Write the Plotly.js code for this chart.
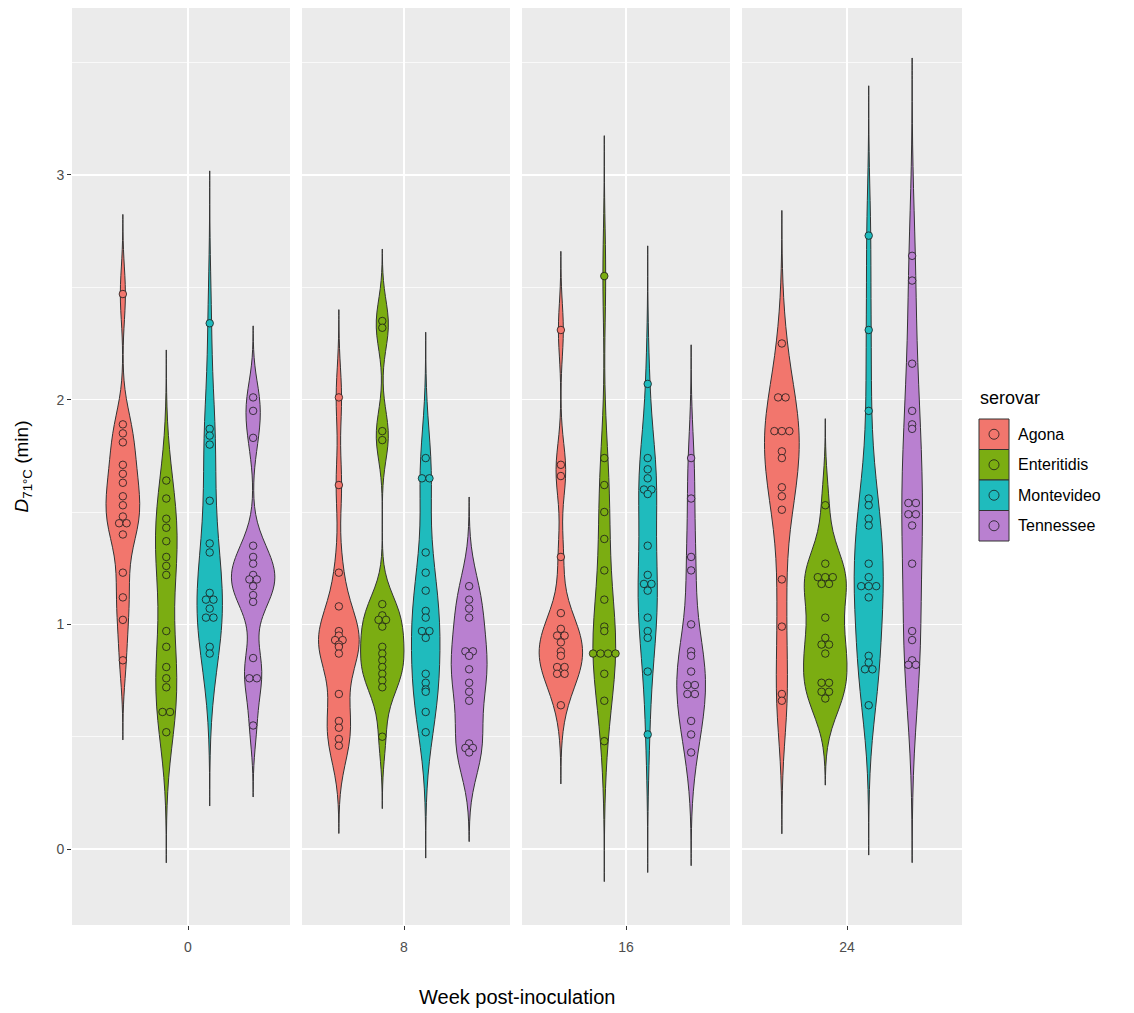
<!DOCTYPE html>
<html>
<head>
<meta charset="utf-8">
<script src="https://cdn.plot.ly/plotly-3.0.1.min.js"></script>
<style>html,body{margin:0;padding:0;background:#ffffff;}</style>
</head>
<body>
<div id="chart" style="width:1134px;height:1013px;"></div>
<script>
// ---------- data ----------
const weeks = ['0', '8', '16', '24'];
const serovars = ['Agona', 'Enteritidis', 'Montevideo', 'Tennessee'];
const fillColors = ['#F2766D', '#7BAD12', '#1FBBBD', '#B980D0'];

const agonaW0 = [2.47, 1.89, 1.85, 1.81, 1.71, 1.67, 1.63, 1.57, 1.53, 1.48, 1.45, 1.45, 1.40, 1.23, 1.12, 1.02, 0.84];
const enteritidisW0 = [1.64, 1.56, 1.47, 1.43, 1.37, 1.30, 1.26, 1.22, 0.97, 0.90, 0.81, 0.76, 0.72, 0.61, 0.61, 0.52];
const montevideoW0 = [2.34, 1.87, 1.84, 1.80, 1.55, 1.36, 1.32, 1.14, 1.11, 1.11, 1.07, 1.03, 1.03, 0.90, 0.87];
const tennesseeW0 = [2.01, 1.95, 1.83, 1.35, 1.30, 1.27, 1.22, 1.20, 1.20, 1.17, 1.13, 1.10, 0.85, 0.76, 0.76, 0.55];

const agonaW8 = [2.01, 1.62, 1.23, 1.08, 0.97, 0.95, 0.93, 0.93, 0.91, 0.90, 0.87, 0.69, 0.57, 0.54, 0.49, 0.46];
const enteritidisW8 = [2.35, 2.32, 1.86, 1.82, 1.09, 1.04, 1.02, 1.02, 0.99, 0.90, 0.87, 0.84, 0.81, 0.78, 0.75, 0.72, 0.50];
const montevideoW8 = [1.74, 1.65, 1.65, 1.32, 1.23, 1.15, 1.06, 1.03, 0.97, 0.97, 0.94, 0.78, 0.74, 0.71, 0.70, 0.61, 0.52];
const tennesseeW8 = [1.17, 1.11, 1.07, 1.03, 0.88, 0.88, 0.86, 0.80, 0.74, 0.70, 0.66, 0.47, 0.45, 0.45, 0.43];

const agonaW16 = [2.31, 1.71, 1.66, 1.30, 1.05, 0.98, 0.95, 0.95, 0.92, 0.88, 0.86, 0.81, 0.81, 0.78, 0.78, 0.64];
const enteritidisW16 = [2.55, 1.74, 1.62, 1.50, 1.38, 1.24, 1.11, 0.99, 0.97, 0.87, 0.87, 0.87, 0.87, 0.78, 0.66, 0.48];
const montevideoW16 = [2.07, 1.74, 1.69, 1.65, 1.60, 1.60, 1.58, 1.35, 1.22, 1.18, 1.18, 1.15, 1.03, 0.97, 0.94, 0.79, 0.51];
const tennesseeW16 = [1.74, 1.56, 1.30, 1.24, 1.00, 0.88, 0.86, 0.79, 0.73, 0.73, 0.69, 0.69, 0.57, 0.51, 0.43];

const agonaW24 = [2.25, 2.01, 2.01, 1.86, 1.86, 1.86, 1.77, 1.74, 1.61, 1.57, 1.51, 1.20, 0.99, 0.69, 0.66];
const enteritidisW24 = [1.53, 1.27, 1.21, 1.21, 1.21, 1.18, 1.18, 1.03, 0.94, 0.91, 0.91, 0.87, 0.74, 0.74, 0.70, 0.70, 0.67];
const montevideoW24 = [2.73, 2.31, 1.95, 1.56, 1.53, 1.47, 1.44, 1.27, 1.21, 1.17, 1.17, 1.17, 1.12, 0.86, 0.83, 0.80, 0.80, 0.64];
const tennesseeW24 = [2.64, 2.53, 2.16, 1.95, 1.89, 1.87, 1.54, 1.54, 1.49, 1.49, 1.44, 1.27, 0.97, 0.93, 0.84, 0.82, 0.82];

const yTickVals = [0, 1, 2, 3];

// table built from the arrays: panels (weeks) x serovars
const panels = [
  [agonaW0, enteritidisW0, montevideoW0, tennesseeW0],
  [agonaW8, enteritidisW8, montevideoW8, tennesseeW8],
  [agonaW16, enteritidisW16, montevideoW16, tennesseeW16],
  [agonaW24, enteritidisW24, montevideoW24, tennesseeW24]
];

// ---------- layout geometry ----------
const FIG_W = 1134, FIG_H = 1013;
const M = {l: 72, r: 172, t: 8, b: 88};
const plotW = FIG_W - M.l - M.r;
const plotH = FIG_H - M.t - M.b;
const panelPx = [[72, 290], [302, 510], [522, 730], [742, 962]];
const centerPx = [188, 404, 626, 847];
const pxPerUnit = 193;
const dodge = [-0.3375, -0.1125, 0.1125, 0.3375];
const violinWidth = 0.225;
const dotSize = 7.5;
const yRange = [-0.338, 3.743];
const FONT = 'Liberation Sans, Arial, Helvetica, sans-serif';

const px2x = px => (px - M.l) / plotW;
const px2y = py => (FIG_H - M.b - py) / plotH;

// ggplot-like bandwidth (bw.nrd0)
function q7(s, p) {
  const h = (s.length - 1) * p, lo = Math.floor(h), hi = Math.min(lo + 1, s.length - 1);
  return s[lo] + (h - lo) * (s[hi] - s[lo]);
}
function nrd0(v) {
  const n = v.length;
  const m = v.reduce((a, b) => a + b, 0) / n;
  const sd = Math.sqrt(v.reduce((a, b) => a + (b - m) * (b - m), 0) / (n - 1));
  const s = [...v].sort((a, b) => a - b);
  let lo = Math.min(sd, (q7(s, 0.75) - q7(s, 0.25)) / 1.34);
  if (!(lo > 0)) lo = sd || 1;
  return 0.9 * lo * Math.pow(n, -0.2);
}
// peak of the gaussian density (for ggplot's scale = "area")
function kdeMax(v, bw, lo, hi) {
  const n = v.length, steps = 600;
  let best = 0;
  for (let s = 0; s <= steps; s++) {
    const x = lo + (hi - lo) * s / steps;
    let sum = 0;
    for (let i = 0; i < n; i++) { const z = (x - v[i]) / bw; sum += Math.exp(-0.5 * z * z); }
    const d = sum / (n * bw * Math.sqrt(2 * Math.PI));
    if (d > best) best = d;
  }
  return best;
}

const traces = [];
panels.forEach((groups, i) => {
  const xa = i === 0 ? 'x' : 'x' + (i + 1);
  const stats = groups.map(vals => {
    const bw = nrd0(vals);
    const lo = Math.min(...vals) - 3 * bw, hi = Math.max(...vals) + 3 * bw;
    return {bw, lo, hi, peak: kdeMax(vals, bw, lo, hi)};
  });
  const panelPeak = Math.max(...stats.map(s => s.peak));
  groups.forEach((vals, j) => {
    const st = stats[j];
    traces.push({
      type: 'violin', x0: dodge[j], y: vals, xaxis: xa, yaxis: 'y',
      name: serovars[j], width: violinWidth * st.peak / panelPeak, scalemode: 'width',
      scalegroup: 'v' + i + '_' + j,
      bandwidth: st.bw, spanmode: 'manual', span: [st.lo, st.hi],
      fillcolor: fillColors[j], line: {color: '#333333', width: 1},
      points: false, box: {visible: false}, meanline: {visible: false},
      showlegend: false, hoverinfo: 'skip'
    });
    // dot-plot style stacking of equal values side by side
    const dx = dotSize / pxPerUnit;
    const counts = {}, seen = {};
    vals.forEach(v => { counts[v] = (counts[v] || 0) + 1; });
    const xs = vals.map(v => {
      const k = counts[v]; const idx = seen[v] || 0; seen[v] = idx + 1;
      return dodge[j] + (idx - (k - 1) / 2) * dx;
    });
    traces.push({
      type: 'scatter', mode: 'markers', x: xs, y: vals, xaxis: xa, yaxis: 'y',
      marker: {size: dotSize, color: fillColors[j], line: {color: '#1A1A1A', width: 0.8}},
      showlegend: false, hoverinfo: 'skip', cliponaxis: false
    });
  });
});

const layout = {
  width: FIG_W, height: FIG_H,
  margin: M,
  paper_bgcolor: '#FFFFFF', plot_bgcolor: '#EBEBEB',
  font: {family: FONT, color: '#000000'},
  showlegend: false, hovermode: false,
  violinmode: 'overlay',
  yaxis: {
    domain: [0, 1], range: yRange, anchor: 'x',
    tickmode: 'array', tickvals: yTickVals, ticktext: yTickVals.map(String),
    ticks: 'outside', ticklen: 4, tickwidth: 1, tickcolor: '#333333',
    tickfont: {family: FONT, size: 14, color: '#4D4D4D'},
    showgrid: true, gridcolor: '#FFFFFF', gridwidth: 1.4,
    minor: {tick0: 0, dtick: 0.5, showgrid: true, gridcolor: '#FFFFFF', gridwidth: 0.7, ticks: ''},
    zeroline: false, showline: false,
    title: {text: '<i>D</i><sub>71°C</sub> (min)', font: {family: FONT, size: 19, color: '#000000'}, standoff: 22}
  },
  annotations: [
    {text: 'Week post-inoculation', xref: 'paper', yref: 'paper', x: 0.5, y: px2y(997),
     xanchor: 'center', yanchor: 'middle', showarrow: false,
     font: {family: FONT, size: 20, color: '#000000'}},
    {text: 'serovar', xref: 'paper', yref: 'paper', x: px2x(978), y: px2y(398),
     xanchor: 'left', yanchor: 'middle', showarrow: false,
     font: {family: FONT, size: 18, color: '#000000'}}
  ],
  shapes: []
};

panelPx.forEach((p, i) => {
  const key = i === 0 ? 'xaxis' : 'xaxis' + (i + 1);
  layout[key] = {
    domain: [px2x(p[0]), px2x(p[1])],
    range: [(p[0] - centerPx[i]) / pxPerUnit, (p[1] - centerPx[i]) / pxPerUnit],
    anchor: 'y', type: 'linear',
    tickmode: 'array', tickvals: [0], ticktext: [weeks[i]],
    ticks: 'outside', ticklen: 4, tickwidth: 1, tickcolor: '#333333',
    ticklabelstandoff: 5,
    tickfont: {family: FONT, size: 14, color: '#4D4D4D'},
    showgrid: true, gridcolor: '#FFFFFF', gridwidth: 1.4,
    zeroline: false, showline: false
  };
});

// legend drawn as keys (filled box + dot) and labels
const keyX0 = 979, keyW = 30, keyY0 = 419, keyH = 30.5;
serovars.forEach((s, k) => {
  const y0 = keyY0 + k * keyH, y1 = y0 + keyH;
  layout.shapes.push({type: 'rect', xref: 'paper', yref: 'paper', layer: 'above',
    x0: px2x(keyX0), x1: px2x(keyX0 + keyW), y0: px2y(y1), y1: px2y(y0),
    fillcolor: fillColors[k], line: {color: '#333333', width: 1}});
  const cx = keyX0 + keyW / 2, cy = (y0 + y1) / 2, r = 5;
  layout.shapes.push({type: 'circle', xref: 'paper', yref: 'paper', layer: 'above',
    x0: px2x(cx - r), x1: px2x(cx + r), y0: px2y(cy + r), y1: px2y(cy - r),
    fillcolor: fillColors[k], line: {color: '#1A1A1A', width: 0.8}});
  layout.annotations.push({text: s, xref: 'paper', yref: 'paper',
    x: px2x(keyX0 + keyW + 7), y: px2y(cy), xanchor: 'left', yanchor: 'middle',
    showarrow: false, font: {family: FONT, size: 16, color: '#000000'}});
});

Plotly.newPlot('chart', traces, layout, {staticPlot: true, displayModeBar: false});
</script>
</body>
</html>
